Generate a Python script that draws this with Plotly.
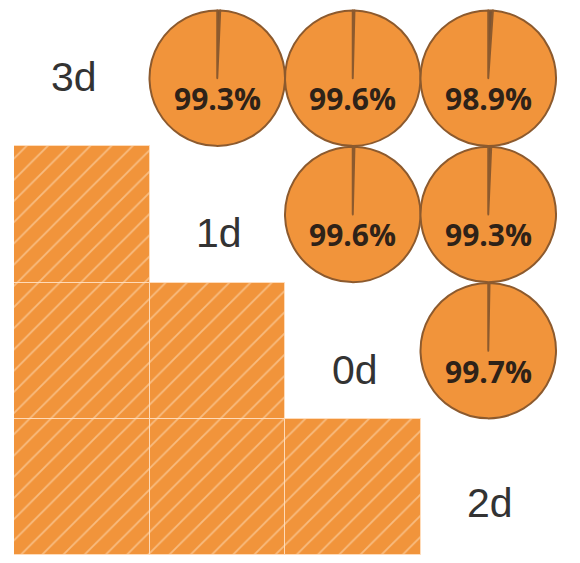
import plotly.graph_objects as go

# Data
diag_labels = ["3d", "1d", "0d", "2d"]
pie_rows = [0, 0, 0, 1, 1, 2]
pie_cols = [1, 2, 3, 2, 3, 3]
pie_values = [99.3, 99.6, 98.9, 99.6, 99.3, 99.7]
square_rows = [1, 2, 2, 3, 3, 3]
square_cols = [0, 0, 1, 0, 1, 2]

N = 4
ORANGE = "#F1943B"
EDGE = "#8C5A2E"

fig = go.Figure()

# Hatched squares (lower triangle)
fig.add_trace(go.Bar(
    x=[c + 0.5 for c in square_cols],
    y=[1] * len(square_rows),
    base=square_rows,
    width=1,
    marker=dict(
        color=ORANGE,
        line=dict(color="rgba(255,222,190,0.9)", width=1),
        pattern=dict(shape="/", fgcolor="rgba(255,232,205,0.95)", size=15, solidity=0.12),
    ),
    hoverinfo="skip",
    showlegend=False,
))

# Pies (upper triangle)
for r, c, v in zip(pie_rows, pie_cols, pie_values):
    fig.add_trace(go.Pie(
        values=[100 - v, v],
        sort=False,
        direction="counterclockwise",
        rotation=0,
        marker=dict(colors=["#7a5535", ORANGE], line=dict(color=EDGE, width=2)),
        textinfo="none",
        hoverinfo="skip",
        showlegend=False,
        domain=dict(x=[c / N, (c + 1) / N], y=[1 - (r + 1) / N, 1 - r / N]),
    ))
    fig.add_annotation(
        x=c + 0.5, y=r + 0.65, xref="x", yref="y",
        text=f"{v}%", showarrow=False,
        font=dict(family="Open Sans", size=30, color="#2e2218", weight="bold"),
    )

# Diagonal labels
diag_offsets_x = [0.44, 0.51, 0.52, 0.51]
diag_offsets_y = [0.49, 0.64, 0.64, 0.62]
for i, lab in enumerate(diag_labels):
    fig.add_annotation(
        x=i + diag_offsets_x[i], y=i + diag_offsets_y[i], xref="x", yref="y",
        text=lab, showarrow=False,
        font=dict(family="Liberation Sans", size=41, color="#333333"),
    )

fig.update_xaxes(range=[0, N], showgrid=False, zeroline=False, showticklabels=False, visible=False)
fig.update_yaxes(range=[N, 0], showgrid=False, zeroline=False, showticklabels=False, visible=False)
fig.update_layout(
    width=580, height=563,
    margin=dict(l=6, r=32, t=2, b=16),
    paper_bgcolor="white", plot_bgcolor="white",
    bargap=0,
)

fig.write_html("out.html")
